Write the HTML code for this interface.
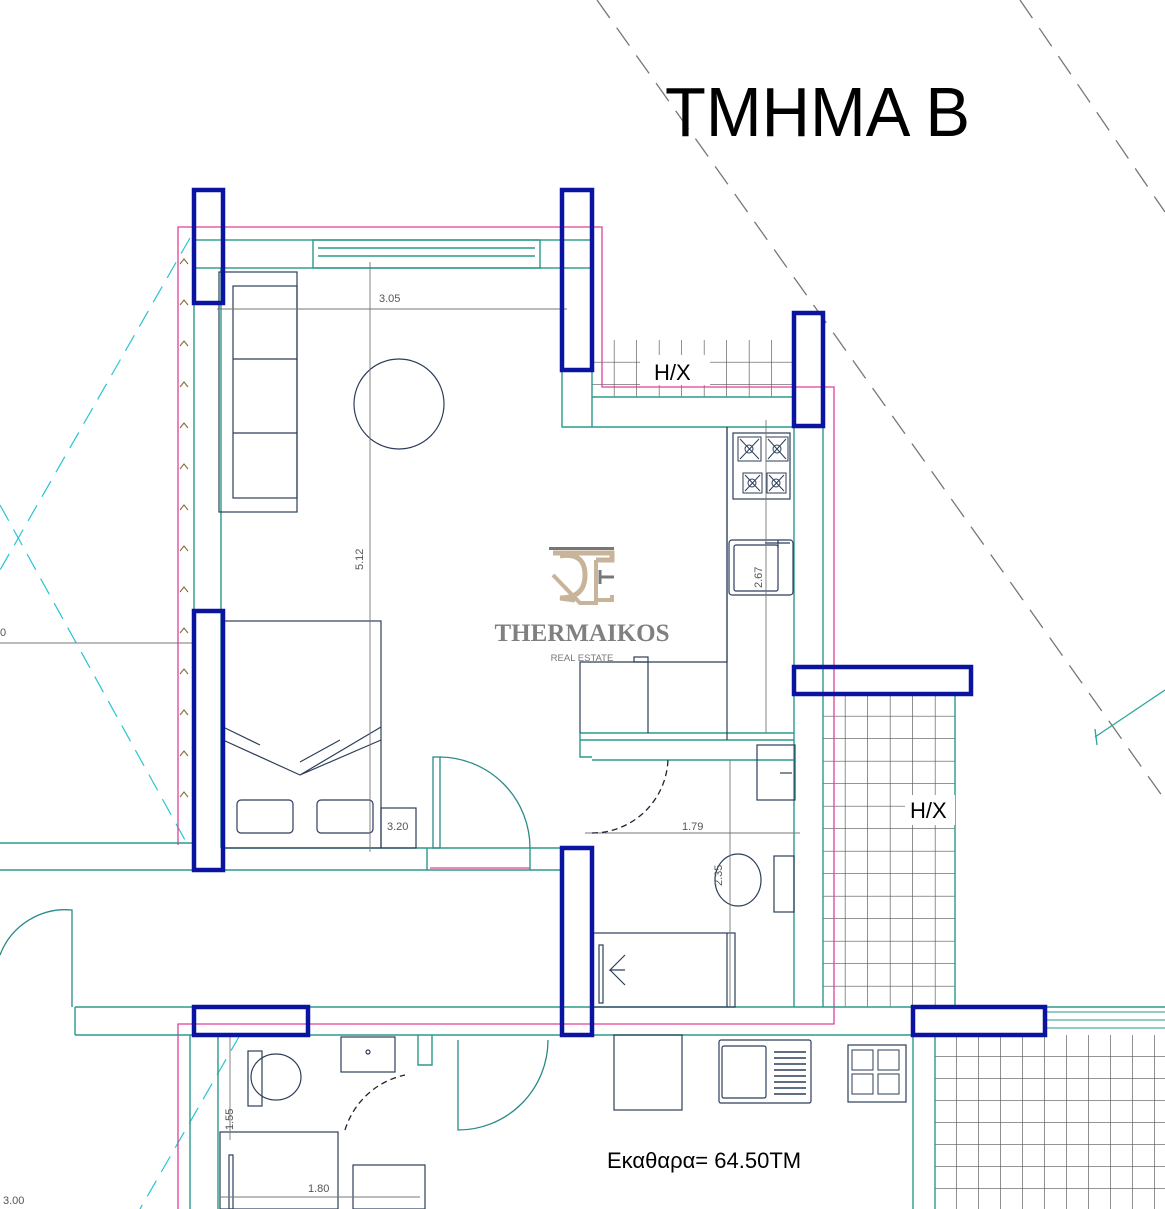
<!DOCTYPE html>
<html><head><meta charset="utf-8"><style>
html,body{margin:0;padding:0;background:#fff;width:1165px;height:1209px;overflow:hidden}
svg{display:block}
</style></head><body>
<svg width="1165" height="1209" viewBox="0 0 1165 1209" xmlns="http://www.w3.org/2000/svg" font-family="Liberation Sans, DejaVu Sans, sans-serif">
<defs>
<pattern id="tile" x="823" y="694" width="22.5" height="22.5" patternUnits="userSpaceOnUse">
<path d="M22.5 0V22.5M0 22.5H22.5" stroke="#555" stroke-width="1.3" fill="none"/></pattern>
<pattern id="tile2" x="592" y="340" width="22.5" height="22.5" patternUnits="userSpaceOnUse">
<path d="M22.5 0V22.5M0 22.5H22.5" stroke="#555" stroke-width="1.3" fill="none"/></pattern>
<pattern id="tile3" x="935" y="1035" width="22" height="22" patternUnits="userSpaceOnUse">
<path d="M22 0V22M0 22H22" stroke="#555" stroke-width="1.3" fill="none"/></pattern>
</defs>

<g stroke="#777" stroke-width="1.3" stroke-dasharray="22,12" fill="none">
<line x1="597" y1="0" x2="1165" y2="800"/>
<line x1="1020" y1="0" x2="1165" y2="212"/>
</g>
<g stroke="#27c4d4" stroke-width="1.2" stroke-dasharray="18,10" fill="none">
<line x1="190" y1="238" x2="0" y2="570"/>
<line x1="0" y1="505" x2="185" y2="840"/>
<line x1="240" y1="1035" x2="140" y2="1209"/>
</g>
<line x1="1095" y1="737" x2="1165" y2="690" stroke="#2aa69a" stroke-width="1.3"/>
<path d="M1095 729 L1097 745" stroke="#2aa69a" stroke-width="1.3"/>

<rect x="823" y="694" width="132" height="313" fill="url(#tile)"/>
<rect x="592" y="340" width="202" height="57" fill="url(#tile2)"/>
<rect x="935" y="1035" width="230" height="174" fill="url(#tile3)"/>
<g stroke="#2a9a8a" stroke-width="1" fill="none">
<line x1="1045" y1="1012" x2="1165" y2="1012"/><line x1="1045" y1="1020" x2="1165" y2="1020"/><line x1="1045" y1="1028" x2="1165" y2="1028"/>
</g>

<g stroke="#e0409a" stroke-width="1.3" fill="none">
<path d="M178 845 V227 H602 V387 H834 V1024 H178 V1209"/>
<line x1="430" y1="868" x2="530" y2="868"/>
</g>

<g stroke="#2a9a8a" stroke-width="1.4" fill="none">
<rect x="194" y="240" width="398" height="28"/>
<rect x="313" y="240" width="227" height="28"/>
<line x1="318" y1="248" x2="535" y2="248"/><line x1="318" y1="256" x2="535" y2="256"/>
<line x1="221" y1="268" x2="221" y2="848"/>
<line x1="194" y1="303" x2="194" y2="848"/>
<path d="M562 370 V427 H794"/><line x1="592" y1="370" x2="592" y2="427"/>
<line x1="592" y1="397" x2="794" y2="397"/>
<line x1="794" y1="426" x2="794" y2="1007"/><line x1="823" y1="426" x2="823" y2="1007"/>
<path d="M223 848 H562 M223 870 H562"/>
<line x1="427" y1="848" x2="427" y2="870"/><line x1="530" y1="848" x2="530" y2="870"/>
<path d="M580 733 H794 M580 740 H794 M592 760 H794 M580 733 V757 H592"/>
<line x1="955" y1="694" x2="955" y2="1007"/>
<path d="M75 1007 H1165 M75 1035 H913 M75 1007 V1035"/>
<line x1="913" y1="1035" x2="913" y2="1209"/><line x1="935" y1="1035" x2="935" y2="1209"/>
<line x1="190" y1="1035" x2="190" y2="1209"/><line x1="218" y1="1035" x2="218" y2="1209"/>
<line x1="0" y1="843" x2="194" y2="843"/><line x1="0" y1="870" x2="194" y2="870"/>
<path d="M432 1035 V1065 H418 V1035"/>
</g>

<g stroke="#8b6a3a" stroke-width="1.1" fill="none">
<path d="M180 264 l4 -5 l4 5 M180 305 l4 -5 l4 5 M180 346 l4 -5 l4 5 M180 387 l4 -5 l4 5 M180 428 l4 -5 l4 5 M180 469 l4 -5 l4 5 M180 510 l4 -5 l4 5 M180 551 l4 -5 l4 5 M180 592 l4 -5 l4 5 M180 633 l4 -5 l4 5 M180 674 l4 -5 l4 5 M180 715 l4 -5 l4 5 M180 756 l4 -5 l4 5 M180 797 l4 -5 l4 5"/>
</g>

<g stroke="#2c3e5a" stroke-width="1.2" fill="none">
<rect x="219" y="272" width="78" height="240"/>
<rect x="233" y="286" width="64" height="212"/>
<line x1="233" y1="359" x2="297" y2="359"/><line x1="233" y1="433" x2="297" y2="433"/>
<circle cx="399" cy="404" r="45"/>
<rect x="223" y="621" width="158" height="227"/>
<path d="M223 727 L260 745 M223 740 L300 775 L381 727 M300 762 L340 740 M381 740 L300 775"/>
<rect x="237" y="800" width="56" height="33" rx="4"/><rect x="317" y="800" width="56" height="33" rx="4"/>
<rect x="381" y="808" width="35" height="40"/>
<path d="M727 427 V662 H580 V733 M648 662 V733"/>
<rect x="634" y="657" width="14" height="5"/>
<line x1="727" y1="427" x2="727" y2="740"/>
<rect x="733" y="433" width="57" height="66"/>
<rect x="729" y="540" width="64" height="55" rx="3"/><rect x="734" y="545" width="44" height="46" rx="2"/>
<path d="M765 543 H790 M778 540 V548"/>
<rect x="757" y="745" width="38" height="55"/><path d="M780 773 H792"/>
<ellipse cx="738" cy="880" rx="23" ry="26"/>
<rect x="774" y="856" width="20" height="56"/>
<rect x="593" y="933" width="142" height="74"/><line x1="727" y1="933" x2="727" y2="1007"/>
<rect x="599" y="945" width="4" height="58"/>
<path d="M625 955 L610 970 H625 M610 970 L625 985"/>
<ellipse cx="276" cy="1077" rx="25" ry="23"/><rect x="248" y="1051" width="14" height="55"/>
<rect x="341" y="1037" width="54" height="35"/><circle cx="368" cy="1052" r="2"/>
<rect x="220" y="1132" width="118" height="77"/><rect x="229" y="1155" width="4" height="54"/>
<rect x="353" y="1165" width="72" height="44"/>
<rect x="614" y="1035" width="68" height="75"/>
<rect x="719" y="1040" width="92" height="63" rx="2"/><rect x="722" y="1046" width="44" height="52" rx="2"/>
<path d="M774 1052 H806 M774 1058 H806 M774 1064 H806 M774 1070 H806 M774 1076 H806 M774 1082 H806 M774 1088 H806 M774 1094 H806" stroke-width="1.6"/>
<rect x="848" y="1045" width="58" height="57"/>
</g>
<g stroke="#2c3e5a" stroke-width="1" fill="none">
<rect x="738" y="437" width="23" height="24"/><rect x="766" y="437" width="22" height="24"/>
<rect x="743" y="473" width="19" height="20"/><rect x="767" y="473" width="19" height="20"/>
<circle cx="749" cy="449" r="4"/><circle cx="777" cy="449" r="4"/><circle cx="752" cy="483" r="4"/><circle cx="776" cy="483" r="4"/>
<path d="M740 439 l19 20 M759 439 l-19 20 M768 439 l18 20 M786 439 l-18 20 M745 475 l15 16 M760 475 l-15 16 M769 475 l15 16 M784 475 l-15 16"/>
<rect x="852" y="1050" width="21" height="20"/><rect x="878" y="1050" width="21" height="20"/>
<rect x="852" y="1074" width="21" height="20"/><rect x="878" y="1074" width="21" height="20"/>
</g>

<g stroke="#777" stroke-width="0.9" fill="none">
<line x1="217" y1="309" x2="567" y2="309"/>
<line x1="370" y1="262" x2="370" y2="852"/>
<line x1="766" y1="420" x2="766" y2="733"/>
<line x1="585" y1="833" x2="800" y2="833"/>
<line x1="730" y1="760" x2="730" y2="1007"/>
<line x1="0" y1="643" x2="194" y2="643"/>
<line x1="220" y1="1197" x2="420" y2="1197"/>
<line x1="230" y1="1035" x2="230" y2="1140"/>
</g>
<g stroke="#2a8a8a" stroke-width="1.3" fill="none">
<rect x="433" y="757" width="7" height="91"/>
<path d="M440 757 A91 91 0 0 1 530 848"/>
<path d="M592 833 A76 76 0 0 0 668 757" stroke-dasharray="6,4" stroke="#223"/>
<path d="M0 955 A70 70 0 0 1 72 910 V1007"/>
<path d="M458 1040 V1130 A90 90 0 0 0 548 1040"/>
<path d="M345 1130 A80 80 0 0 1 405 1075" stroke-dasharray="6,4" stroke="#223"/>
</g>

<g stroke="#0a14a0" stroke-width="4.5" fill="none">
<rect x="194" y="190" width="29" height="113"/>
<rect x="562" y="190" width="30" height="180"/>
<rect x="794" y="313" width="29" height="113"/>
<rect x="194" y="611" width="29" height="259"/>
<rect x="794" y="667" width="177" height="27"/>
<rect x="562" y="848" width="30" height="187"/>
<rect x="194" y="1007" width="114" height="28"/>
<rect x="913" y="1007" width="132" height="28"/>
</g>

<text x="665" y="136" font-size="70" font-family="Liberation Sans, DejaVu Sans, sans-serif" fill="#000" textLength="305" lengthAdjust="spacingAndGlyphs">ΤΜΗΜΑ Β</text>
<rect x="640" y="355" width="70" height="30" fill="#fff"/>
<text x="654" y="380" font-size="22" fill="#000">H/X</text>
<rect x="905" y="795" width="50" height="30" fill="#fff"/>
<text x="910" y="818" font-size="22" fill="#000">H/X</text>
<g font-size="11" fill="#555">
<text x="379" y="302">3.05</text>
<text x="387" y="830">3.20</text>
<text x="682" y="830">1.79</text>
<text x="308" y="1192">1.80</text>
<text x="3" y="1204">3.00</text>
<text x="0" y="636">0</text>
<text transform="translate(363,570) rotate(-90)">5.12</text>
<text transform="translate(762,588) rotate(-90)">2.67</text>
<text transform="translate(722,886) rotate(-90)">2.35</text>
<text transform="translate(233,1130) rotate(-90)">1.55</text>
</g>
<text x="607" y="1168" font-size="22" fill="#000">Εκαθαρα= 64.50ΤΜ</text>

<g>
<rect x="549" y="547" width="65" height="3" fill="#777"/>
<path d="M553 553 H612 V560 H596 M560 556 Q585 552 585 575 Q585 598 560 598 L575 600" stroke="#c8b49a" stroke-width="5" fill="none"/>
<path d="M553 575 L580 603 H596 V560" stroke="#c8b49a" stroke-width="4" fill="none"/>
<path d="M596 600 H612 V595" stroke="#c8b49a" stroke-width="4" fill="none"/>
<path d="M600 577 H614 M600 570 V584" stroke="#777" stroke-width="3"/>
<text x="582" y="641" font-size="25" font-family="Liberation Serif, serif" font-weight="bold" fill="#808080" text-anchor="middle">THERMAIKOS</text>
<text x="582" y="661" font-size="9.5" fill="#777" text-anchor="middle">REAL ESTATE</text>
</g>
</svg>
</body></html>
